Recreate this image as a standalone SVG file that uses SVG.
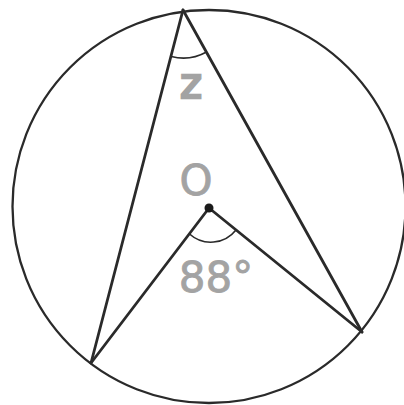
<svg xmlns="http://www.w3.org/2000/svg" width="404" height="405" viewBox="0 0 404 405">
<style>
.ln{fill:none;stroke:#2a2a2a;stroke-width:2.8;stroke-linecap:round}
.circ{fill:none;stroke:#2a2a2a;stroke-width:2.3}
.arc{fill:none;stroke:#2a2a2a;stroke-width:1.6}
.lbl{font-family:"DejaVu Sans","Liberation Sans",sans-serif;font-size:42px;fill:#a3a3a3;stroke:#a3a3a3;stroke-width:0.8}
</style>
<rect width="404" height="405" fill="#ffffff"/>
<g id="circle"><circle class="circ" cx="209" cy="206.5" r="196.5"/></g>
<g id="connectors">
<line class="ln" x1="183" y1="10" x2="91" y2="363"/>
<line class="ln" x1="183" y1="10" x2="362" y2="332"/>
<line class="ln" x1="209" y1="208" x2="91" y2="363"/>
<line class="ln" x1="209" y1="208" x2="362" y2="332"/>
</g>
<g id="angle-z">
<path class="arc" d="M171.3,56.5 A48,48 0 0 0 206.5,52"/>
<text class="lbl" x="191" y="98" text-anchor="middle" font-size="44" style="stroke-width:2.4">z</text>
</g>
<g id="center-O">
<circle cx="209" cy="208" r="4.5" fill="#1a1a1a"/>
<text class="lbl" x="196" y="195" text-anchor="middle">O</text>
</g>
<g id="angle-88">
<path class="arc" d="M189.5,234 A32,32 0 0 0 236,230"/>
<text class="lbl" x="216" y="292" text-anchor="middle">88°</text>
</g>
</svg>
